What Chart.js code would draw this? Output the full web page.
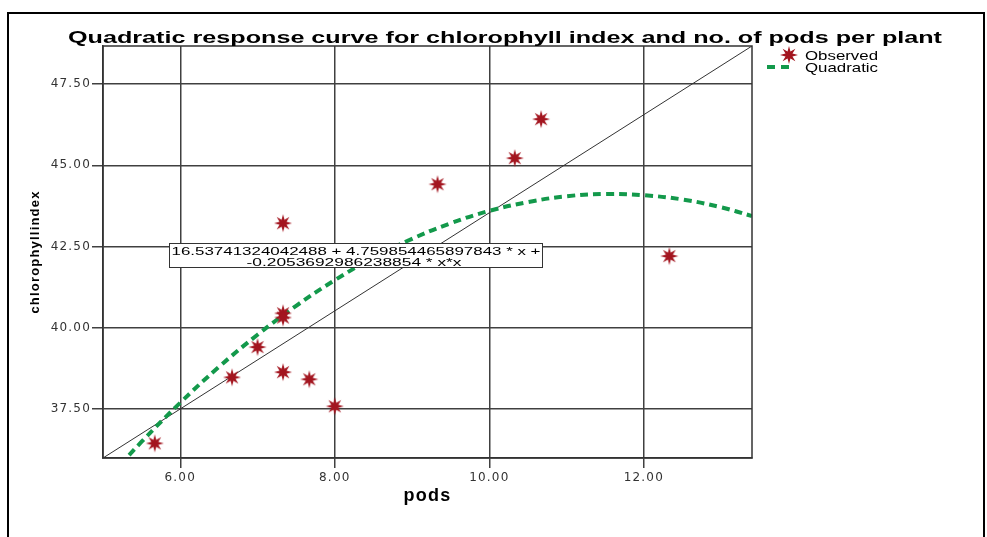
<!DOCTYPE html>
<html>
<head>
<meta charset="utf-8">
<script src="https://cdn.jsdelivr.net/npm/chart.js@4/dist/chart.umd.min.js"></script>
<style>
  html, body { margin: 0; padding: 0; background: #fff; }
  #wrap { width: 987px; height: 537px; }
</style>
</head>
<body>
<div id="wrap"><canvas id="c" width="987" height="537"></canvas></div>
<script>
// observed points: pods per plant vs chlorophyll index
const podsObs = [5.67, 6.67, 7.00, 7.33, 7.33, 7.33, 7.33, 7.67, 8.00, 9.33, 10.33, 10.67, 12.33];
const chlObs  = [36.45, 38.48, 39.41, 43.22, 40.45, 40.32, 38.64, 38.42, 37.59, 44.42, 45.22, 46.42, 42.21];

// quadratic fit
const quadX = [5.0, 5.5, 6.0, 6.5, 7.0, 7.5, 8.0, 8.5, 9.0, 9.5, 10.0, 10.5, 11.0, 11.5, 12.0, 12.5, 13.0, 13.4];
const quadY = [35.20, 36.50, 37.70, 38.80, 39.79, 40.68, 41.47, 42.16, 42.74, 43.22, 43.60, 43.87, 44.05, 44.12, 44.08, 43.95, 43.71, 43.44];

// thin diagonal reference line (corner to corner)
const refX = [5.0, 13.4];
const refY = [36.0, 48.67];

const xTicks = [6, 8, 10, 12];
const yTicks = [37.5, 40, 42.5, 45, 47.5];

const titleText = 'Quadratic response curve for chlorophyll index and no. of pods per plant';
const eqLines = ['16.53741324042488 + 4.759854465897843 * x +', '-0.2053692986238854 * x*x'];
const legendLabels = ['Observed', 'Quadratic'];

const starRed = '#a3151f';
const quadGreen = '#13994b';

// 8-point filled star used as the point marker
function makeStar(r) {
  const c = document.createElement('canvas');
  c.width = c.height = r * 2 + 2;
  const g = c.getContext('2d');
  g.translate(r + 1, r + 1);
  g.beginPath();
  for (let i = 0; i < 16; i++) {
    const a = i * Math.PI / 8 - Math.PI / 2;
    const rr = i % 2 ? r * 0.42 : r;
    g.lineTo(Math.cos(a) * rr, Math.sin(a) * rr);
  }
  g.closePath();
  g.fillStyle = starRed;
  g.fill();
  return c;
}
const star = makeStar(9);

// text squeezed/stretched to a given width
function fitText(ctx, text, x, y, w, font, align) {
  ctx.save();
  ctx.letterSpacing = '0px';
  ctx.font = font;
  const m = ctx.measureText(text).width;
  ctx.translate(x, y);
  ctx.scale(w / m, 1);
  ctx.textAlign = align || 'center';
  ctx.textBaseline = 'alphabetic';
  ctx.fillStyle = '#000';
  ctx.fillText(text, 0, 0);
  ctx.restore();
}

const spacing = {
  id: 'spacing',
  beforeDraw(chart) { chart.ctx.letterSpacing = '1.2px'; }
};

const decor = {
  id: 'decor',
  afterDraw(chart) {
    const ctx = chart.ctx;
    const a = chart.chartArea;
    ctx.save();
    // outer frame
    ctx.strokeStyle = '#000';
    ctx.lineWidth = 2;
    ctx.strokeRect(8, 13, 976, 600);
    // plot box top/right
    ctx.strokeStyle = '#333';
    ctx.lineWidth = 1.5;
    ctx.strokeRect(a.left, a.top, a.right - a.left, a.bottom - a.top);

    // title
    fitText(ctx, titleText, 505, 43, 874, 'bold 17px "Liberation Sans", Arial, sans-serif');

    // legend
    ctx.drawImage(star, 789 - star.width / 2, 55 - star.height / 2);
    ctx.strokeStyle = quadGreen;
    ctx.lineWidth = 4;
    ctx.setLineDash([8, 6]);
    ctx.beginPath();
    ctx.moveTo(767, 67);
    ctx.lineTo(790, 67);
    ctx.stroke();
    ctx.setLineDash([]);
    fitText(ctx, legendLabels[0], 805, 59.5, 73, '13px "Liberation Sans", Arial, sans-serif', 'left');
    fitText(ctx, legendLabels[1], 805, 71.5, 73, '13px "Liberation Sans", Arial, sans-serif', 'left');

    // equation box
    ctx.fillStyle = '#fff';
    ctx.fillRect(169, 243, 373, 24);
    ctx.strokeStyle = '#333';
    ctx.lineWidth = 1;
    ctx.strokeRect(169.5, 243.5, 373, 24);
    fitText(ctx, eqLines[0], 356, 254.5, 369, '11.5px "Liberation Sans", Arial, sans-serif');
    fitText(ctx, eqLines[1], 354, 265.5, 215, '11.5px "Liberation Sans", Arial, sans-serif');
    ctx.restore();
  }
};

const tickFont = { family: '"DejaVu Sans", sans-serif', size: 12 };

new Chart(document.getElementById('c'), {
  type: 'scatter',
  data: {
    datasets: [
      {
        label: legendLabels[0],
        data: podsObs.map((x, i) => ({ x: x, y: chlObs[i] })),
        pointStyle: star,
        pointRadius: 9,
        pointHoverRadius: 9
      },
      {
        type: 'line',
        label: legendLabels[1],
        data: quadX.map((x, i) => ({ x: x, y: quadY[i] })),
        borderColor: quadGreen,
        borderWidth: 4,
        borderDash: [8, 5],
        pointRadius: 0,
        tension: 0.4,
        fill: false
      },
      {
        type: 'line',
        label: 'reference',
        data: refX.map((x, i) => ({ x: x, y: refY[i] })),
        borderColor: '#333',
        borderWidth: 1,
        pointRadius: 0,
        fill: false
      }
    ]
  },
  options: {
    responsive: false,
    animation: false,
    events: [],
    layout: { padding: { top: 46, right: 235, left: 0, bottom: 0 } },
    plugins: {
      legend: { display: false },
      tooltip: { enabled: false },
      title: { display: false }
    },
    scales: {
      x: {
        type: 'linear',
        min: 5,
        max: 13.4,
        afterBuildTicks: s => { s.ticks = xTicks.map(v => ({ value: v })); },
        afterFit: s => { s.height = 79; },
        ticks: { callback: v => v.toFixed(2), font: tickFont, color: '#333', padding: 3, maxRotation: 0, autoSkip: false },
        grid: { color: '#404040', lineWidth: 1.5, tickLength: 10 },
        border: { color: '#333', width: 1.5 },
        title: {
          display: true, text: 'pods', color: '#000',
          font: { family: '"Liberation Sans", Arial, sans-serif', size: 18, weight: 'bold' },
          padding: { top: 0, bottom: 30 }
        }
      },
      y: {
        type: 'linear',
        min: 36,
        max: 48.67,
        afterBuildTicks: s => { s.ticks = yTicks.map(v => ({ value: v })); },
        afterFit: s => { s.width = 103; },
        ticks: { callback: v => v.toFixed(2), font: tickFont, color: '#333', padding: 1, autoSkip: false },
        grid: { color: '#404040', lineWidth: 1.5, tickLength: 11 },
        border: { color: '#333', width: 1.5 },
        title: {
          display: true, text: 'chlorophyllindex', color: '#000',
          font: { family: '"Liberation Sans", Arial, sans-serif', size: 13, weight: 'bold' },
          padding: { top: 28, bottom: 0 }
        }
      }
    }
  },
  plugins: [spacing, decor]
});
</script>
</body>
</html>
